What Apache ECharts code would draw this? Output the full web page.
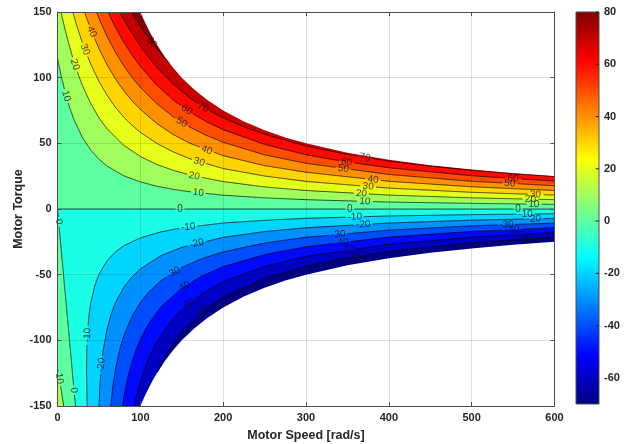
<!DOCTYPE html>
<html>
<head>
<meta charset="utf-8">
<script src="https://cdn.jsdelivr.net/npm/echarts@6/dist/echarts.min.js"></script>
<style>
  html, body { margin: 0; padding: 0; background: #fff; }
  #chart { width: 626px; height: 444px; }
</style>
</head>
<body>
<div id="chart"></div>
<script>
// contour lines, points are [speed rad/s, torque]
const zeroLine = [[0, 0], [600, 0]];
const zeroWedge = [[0, 0], [21.7, -150]];
const corner10 = [[0, -121.3], [3.8, -135], [7.5, -150]];

const c10 = [[0,115],[2,108.5],[5,100],[10,87],[15,76.5],[20,68],[30,54.5],[40,45],[50,37.9],[60,32.6],[80,25.3],[100,20.6],[120,17.3],[140,14.9],[160,13.1],[200,10.5],[250,8.5],[300,7.1],[400,5.3],[500,4.3],[600,3.5]];
const c20 = [[4.2,150],[5,147.8],[7.5,141],[10,134.5],[15,122.6],[20,112],[25,102.5],[30,94.2],[40,80.4],[50,69.5],[60,61],[80,48.5],[100,40],[120,33.9],[140,29.4],[160,25.9],[200,20.9],[250,16.8],[300,14.1],[400,10.6],[500,8.5],[600,7.1]];
const c30 = [[18.4,150],[20,146.5],[25,136.1],[30,126.7],[40,110.5],[50,97.2],[60,86.4],[70,77.4],[80,69.9],[90,63.7],[100,58.4],[120,49.9],[140,43.4],[160,38.2],[200,30.8],[250,25.1],[300,21],[400,15.9],[500,12.7],[600,10.6]];
const c40 = [[32.6,150],[35,145.7],[40,137.1],[50,122.2],[60,109.6],[70,99],[80,90.1],[90,82.4],[100,75.9],[120,65],[140,56.6],[160,50],[200,40.6],[250,33],[300,28],[400,21.1],[500,16.9],[600,14.1]];
const c50 = [[46.8,150],[50,145.1],[60,131.2],[70,119.3],[80,109.1],[90,100.2],[100,92.6],[120,80.1],[140,70.1],[160,62.3],[180,56],[200,50.8],[250,41.2],[300,34.8],[400,26.3],[500,21.1],[600,17.7]];
const c60 = [[61,150],[65,144.6],[70,138.4],[80,127.1],[90,117.3],[100,108.7],[120,94.2],[140,82.8],[160,73.7],[180,66.4],[200,60.4],[250,49.2],[300,41.3],[350,35.7],[400,31.4],[500,25.3],[600,21.2]];
const c70 = [[75.2,150],[80,144.3],[90,133.6],[100,124.1],[110,115.4],[120,107.8],[140,94.8],[160,84.4],[180,76],[200,69.4],[225,62.5],[250,56.9],[300,48],[350,41.5],[400,36.5],[450,32.6],[500,29.5],[550,26.9],[600,24.7]];
const c80 = [[89.3,150],[100,139.1],[110,130],[120,121.9],[130,114.7],[135,111.1]];

const cm10 = [[35.9,-150],[35.3,-135],[35.1,-121],[35.3,-108.7],[36,-96.6],[38,-80.9],[40,-71.9],[45,-58.2],[50,-49.7],[60,-39.2],[70,-32.6],[80,-28],[100,-22],[125,-17.4],[150,-14.4],[200,-10.7],[250,-8.6],[300,-7.1],[400,-5.3],[500,-4.3],[600,-3.6]];
const cm20 = [[50.1,-150],[51,-135.6],[53,-118.8],[55,-108.1],[60,-90.8],[65,-79.6],[70,-71.3],[80,-59.6],[90,-51.6],[100,-45.6],[125,-35.5],[150,-29.2],[200,-21.6],[250,-17.2],[300,-14.3],[400,-10.7],[500,-8.5],[600,-7.1]];
const cm30 = [[64.3,-150],[65,-145],[67,-134.1],[70,-121.9],[75,-107.3],[80,-96.7],[90,-81.6],[100,-71.2],[110,-63.3],[125,-54.5],[150,-44.5],[175,-37.6],[200,-32.7],[250,-25.9],[300,-21.5],[400,-16.1],[500,-12.8],[600,-10.7]];
const cm40 = [[78.4,-150],[79,-147.7],[81,-140.2],[85,-128],[90,-116.3],[95,-107],[100,-99.4],[110,-87.4],[125,-74.5],[150,-60.2],[175,-50.8],[200,-44],[250,-34.7],[300,-28.8],[400,-21.4],[500,-17.1],[600,-14.2]];
const cm50 = [[92.6,-150],[93,-148.9],[95,-143.2],[100,-131.3],[105,-121.7],[110,-113.7],[120,-100.9],[135,-86.9],[150,-76.6],[175,-64.2],[200,-55.4],[250,-43.7],[300,-36.1],[400,-26.9],[500,-21.4],[600,-17.8]];
const cm60 = [[120.7,-124.3],[125,-118.3],[135,-106.8],[150,-93.5],[175,-78],[200,-67.1],[250,-52.7],[300,-43.5],[350,-37],[400,-32.3],[500,-25.7],[600,-21.4]];

// edge of the valid (non blank) region
const limitTop = [[100,150],[105,142.9],[110,136.4],[115,130.4],[120,125],[130,115.4],[140,107.1],[150,100],[165,90.9],[180,83.3],[200,75],[225,66.7],[250,60],[275,54.5],[300,50],[350,42.9],[400,37.5],[450,33.3],[500,30],[550,27.3],[600,25]];
const limitBottom = [[100,-150],[105,-142.9],[110,-136.4],[115,-130.4],[120,-125],[130,-115.4],[140,-107.1],[150,-100],[165,-90.9],[180,-83.3],[200,-75],[225,-66.7],[250,-60],[275,-54.5],[300,-50],[350,-42.9],[400,-37.5],[450,-33.3],[500,-30],[550,-27.3],[600,-25]];

// contour labels: [speed, torque, text, angle]
const contourLabels = [
  [10.5,86,'10',-73],[21,110,'20',-72],[33.2,121.5,'30',-69],[41.3,135,'40',-67],
  [113.8,127,'80',-52],[176,77.4,'70',-31],[156,75.5,'60',-35],[150,66,'50',-31],
  [180,44.8,'40',-20],[171,35.8,'30',-16],[165,25.1,'20',-11],[170,12.4,'10',-6],[148,0,'0',0],
  [371,39.2,'70',-9],[349,35.8,'60',-8],[345,30.7,'50',-8],[381,22.3,'40',-6],[375,17.2,'30',-5],
  [367,11.8,'20',-3],[371,5.8,'10',-2],[353,0,'0',0],
  [359,-6,'-10',2],[369,-11.8,'-20',3],[339,-19.4,'-30',5],[343,-25.6,'-40',7],[351,-31.4,'-50',8],[363,-35.8,'-60',8],
  [550,23.2,'60',-4],[546,19.5,'50',-3],[577,11.1,'30',-2],[571,7.5,'20',-1],[575,3.7,'10',-1],[556,0,'0',0],
  [565,-3.9,'-10',1],[575,-7.5,'-20',1],[542,-11.9,'-30',2],[549,-15.7,'-40',3],[555,-19.4,'-50',3],[567,-22.8,'-60',4],
  [158,-13.7,'-10',7],[168,-26.3,'-20',13],[140,-48.5,'-30',32],[152,-59.4,'-40',32],[158,-72.6,'-50',38],[174,-78.5,'-60',36],
  [36,-96,'-10',88],[53,-118.8,'-20',85],[1.4,-9.7,'0',-85],[20,-138,'0',-85],[2.2,-129,'10',-80]
];

const colorRange = [-70, 80];
const colorTicks = [-60, -40, -20, 0, 20, 40, 60, 80];

// jet colours for the filled bands, keyed by the lower level of the band
const bandColor = {
  '-70': '#000080', '-60': '#0000c4', '-50': '#0009ff', '-40': '#004dff',
  '-30': '#0091ff', '-20': '#00d4ff', '-10': '#1affe6', '0': '#5dffa1',
  '10': '#a1ff5d', '20': '#e6ff1a', '30': '#ffd400', '40': '#ff9100',
  '50': '#ff4d00', '60': '#ff0900', '70': '#c40000', '80': '#800000'
};

const upperLevels = [[10, c10], [20, c20], [30, c30], [40, c40], [50, c50], [60, c60], [70, c70], [80, c80]];
const lowerLevels = [[-10, cm10], [-20, cm20], [-30, cm30], [-40, cm40], [-50, cm50], [-60, cm60]];
const strokes = [[0, zeroLine], [0, zeroWedge], [10, corner10]].concat(upperLevels, lowerLevels);

const FONT = 'Liberation Sans, Arial, Helvetica, sans-serif';
const AXIS_COLOR = '#4d4d4d';
const TEXT_COLOR = '#262626';

function band(data, color, origin) {
  return {
    type: 'line',
    data: data,
    showSymbol: false,
    symbol: 'none',
    silent: true,
    lineStyle: { width: 0, opacity: 0 },
    areaStyle: { color: color, opacity: 1, origin: origin },
    z: 2
  };
}

// half width of a contour label, used to open a gap in its line
function gapRadius(txt) {
  let w = 0;
  for (const ch of txt) w += ch === '-' ? 3.4 : 5.6;
  return w / 2 + 1.5;
}

const series = [];
series.push(band(zeroLine, bandColor['0'], 'end'));
series.push(band(zeroLine, bandColor['-10'], 'start'));
series.push(band(zeroWedge, bandColor['0'], 'start'));
series.push(band(corner10, bandColor['10'], 'start'));
upperLevels.forEach(([lv, d]) => series.push(band(d, bandColor[String(lv)], 'end')));
lowerLevels.forEach(([lv, d]) => series.push(band(d, bandColor[String(lv - 10)], 'start')));
series.push(band(limitTop, '#fff', 'end'));
series.push(band(limitBottom, '#fff', 'start'));

// contour lines, broken where a label sits on them
series.push({
  type: 'custom',
  silent: true,
  clip: true,
  z: 4,
  data: strokes.map(s => s[1][0]),
  renderItem: function (params, api) {
    const lv = strokes[params.dataIndex][0];
    const pts = strokes[params.dataIndex][1].map(p => api.coord(p));
    const holes = contourLabels
      .filter(l => Number(l[2]) === lv)
      .map(l => { const c = api.coord([l[0], l[1]]); return [c[0], c[1], gapRadius(l[2])]; });
    const runs = [];
    let cur = [];
    for (let i = 0; i < pts.length - 1; i++) {
      const a = pts[i], b = pts[i + 1];
      const n = Math.max(1, Math.ceil(Math.hypot(b[0] - a[0], b[1] - a[1])));
      for (let j = i === 0 ? 0 : 1; j <= n; j++) {
        const x = a[0] + (b[0] - a[0]) * j / n;
        const y = a[1] + (b[1] - a[1]) * j / n;
        if (holes.some(h => Math.hypot(x - h[0], y - h[1]) < h[2])) {
          if (cur.length > 1) runs.push(cur);
          cur = [];
        } else {
          cur.push([x, y]);
        }
      }
    }
    if (cur.length > 1) runs.push(cur);
    return {
      type: 'group',
      children: runs.map(r => ({
        type: 'polyline',
        shape: { points: r },
        style: { stroke: '#000', lineWidth: 0.7, fill: null }
      }))
    };
  }
});

series.push({
  type: 'scatter',
  silent: true,
  symbolSize: 0,
  z: 5,
  data: contourLabels.map(([w, t, txt, rot]) => ({ value: [w, t], label: { formatter: txt, rotate: rot } })),
  label: {
    show: true, position: 'inside', align: 'center', verticalAlign: 'middle',
    fontSize: 10, color: '#111', fontFamily: FONT
  }
});

// colour bar: jet gradient with ticks on its right edge
series.push({
  type: 'custom',
  xAxisIndex: 2,
  yAxisIndex: 2,
  silent: true,
  data: [[0, colorRange[0], 1, colorRange[1]]],
  encode: { x: [0, 2], y: [1, 3] },
  renderItem: function (params, api) {
    const p0 = api.coord([api.value(0), api.value(1)]);
    const p1 = api.coord([api.value(2), api.value(3)]);
    const ticks = colorTicks.map(v => {
      const y = api.coord([1, v])[1];
      return {
        type: 'line',
        shape: { x1: p1[0] - 3.5, y1: y, x2: p1[0], y2: y },
        style: { stroke: '#262626', lineWidth: 1 }
      };
    });
    return {
      type: 'group',
      children: [{
        type: 'rect',
        shape: { x: p0[0], y: p1[1], width: p1[0] - p0[0], height: p0[1] - p1[1] },
        style: {
          fill: new echarts.graphic.LinearGradient(0, 1, 0, 0, [
            { offset: 0, color: '#000080' },
            { offset: 0.125, color: '#0000ff' },
            { offset: 0.375, color: '#00ffff' },
            { offset: 0.625, color: '#ffff00' },
            { offset: 0.875, color: '#ff0000' },
            { offset: 1, color: '#800000' }
          ]),
          stroke: AXIS_COLOR,
          lineWidth: 1
        }
      }].concat(ticks)
    };
  }
});

const tickLabel = { color: TEXT_COLOR, fontWeight: 'bold', fontSize: 11, fontFamily: FONT };
const nameStyle = { color: TEXT_COLOR, fontWeight: 'bold', fontSize: 12.5, fontFamily: FONT };
const line = { show: true, onZero: false, lineStyle: { color: AXIS_COLOR, width: 1 } };
const tick = { show: true, inside: true, length: 4, lineStyle: { color: AXIS_COLOR } };
const grid = { show: true, lineStyle: { color: 'rgba(38,38,38,0.15)', width: 1 } };

const chart = echarts.init(document.getElementById('chart'), null, { renderer: 'canvas' });
chart.setOption({
  animation: false,
  grid: [
    { left: 57.5, top: 12, width: 497, height: 394, outerBoundsMode: 'none', containLabel: false },
    { left: 576, top: 12, width: 23, height: 392, outerBoundsMode: 'none', containLabel: false }
  ],
  xAxis: [
    {
      gridIndex: 0, type: 'value', min: 0, max: 600, interval: 100, position: 'bottom', z: 10,
      name: 'Motor Speed [rad/s]', nameLocation: 'middle', nameGap: 23, nameMoveOverlap: false,
      nameTextStyle: nameStyle,
      axisLine: line, axisTick: tick, axisLabel: Object.assign({ margin: 6 }, tickLabel), splitLine: grid
    },
    {
      gridIndex: 0, type: 'value', min: 0, max: 600, interval: 100, position: 'top', z: 10,
      axisLine: line, axisTick: tick, axisLabel: { show: false }, splitLine: { show: false }
    },
    { gridIndex: 1, type: 'value', min: 0, max: 1, show: false }
  ],
  yAxis: [
    {
      gridIndex: 0, type: 'value', min: -150, max: 150, interval: 50, position: 'left', z: 10,
      name: 'Motor Torque', nameLocation: 'middle', nameGap: 32, nameMoveOverlap: false,
      nameTextStyle: nameStyle,
      axisLine: line, axisTick: tick, axisLabel: Object.assign({ margin: 6 }, tickLabel), splitLine: grid
    },
    {
      gridIndex: 0, type: 'value', min: -150, max: 150, interval: 50, position: 'right', z: 10,
      axisLine: line, axisTick: tick, axisLabel: { show: false }, splitLine: { show: false }
    },
    {
      gridIndex: 1, type: 'value', min: colorRange[0], max: colorRange[1], position: 'right', z: 10,
      axisLine: { show: false },
      axisTick: { show: false },
      axisLabel: Object.assign({ margin: 5, customValues: colorTicks }, tickLabel),
      splitLine: { show: false }
    }
  ],
  series: series
});
</script>
</body>
</html>
